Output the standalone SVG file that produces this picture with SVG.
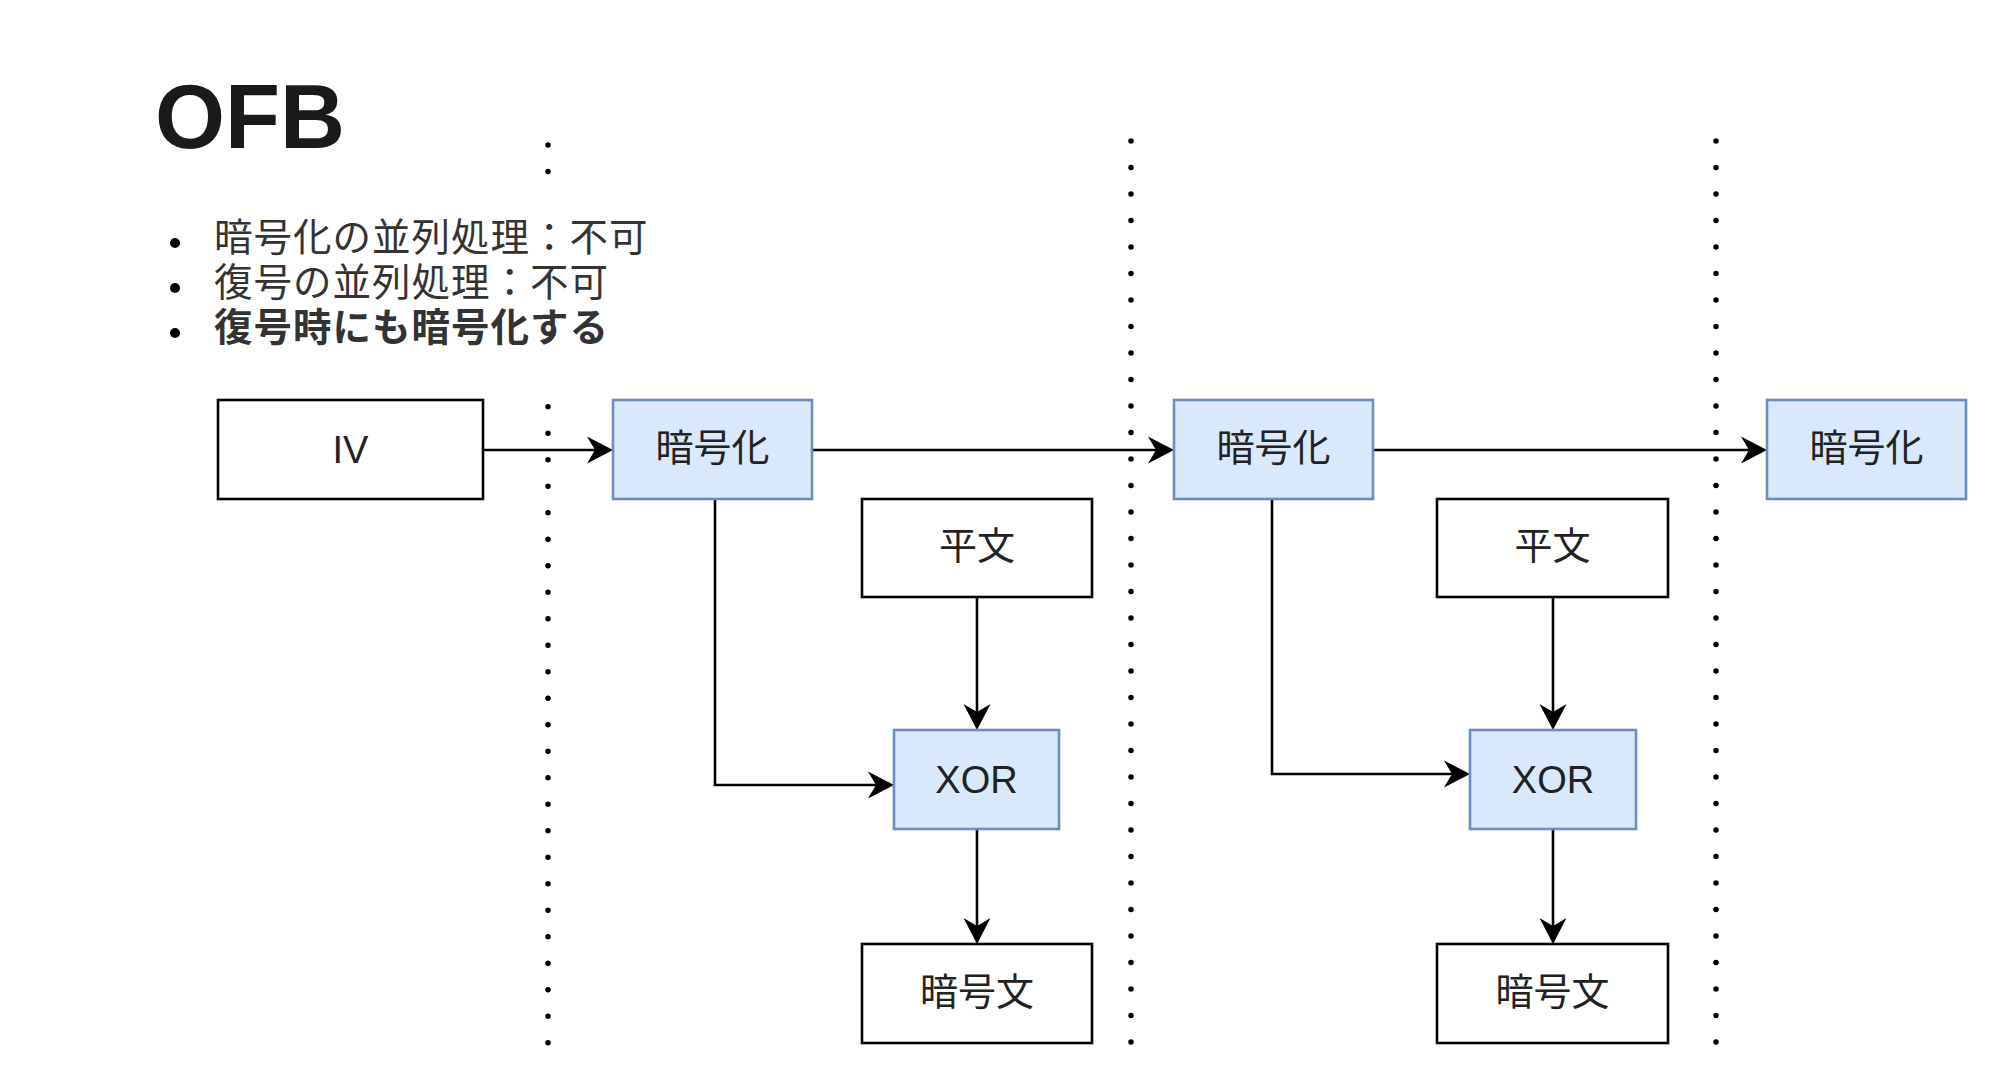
<svg xmlns="http://www.w3.org/2000/svg" width="2000" height="1081" viewBox="0 0 2000 1081">
  <style>
    .t { font-family: "Liberation Sans", "Noto Sans CJK JP", sans-serif; fill: #1a1a1a; }
    .note { font-size: 38.5px; letter-spacing: 1px; fill: #333333; }
    .lbl { font-size: 38px; text-anchor: middle; fill: #222222; }
    .plain { fill: #ffffff; stroke: #000000; stroke-width: 2.6; }
    .enc { fill: #dae8fc; stroke: #6c8ebf; stroke-width: 2.6; }
    .conn { fill: none; stroke: #000000; stroke-width: 2.6; marker-end: url(#arrow); }
    .sep { stroke: #000000; stroke-width: 5.5; stroke-linecap: round; stroke-dasharray: 0 26.5; fill: none; }
  </style>
  <defs>
    <marker id="arrow" viewBox="-22 -15 32 30" refX="0" refY="0" markerWidth="32" markerHeight="30" markerUnits="userSpaceOnUse" orient="auto" overflow="visible">
      <path d="M8,0 L-18,-13.5 L-10,0 L-18,13.5 Z" fill="#000000"/>
    </marker>
  </defs>
  <rect width="2000" height="1081" fill="#ffffff"/>

  <g id="title">
    <text class="t" x="155" y="148" font-size="90" font-weight="bold" fill="#000">OFB</text>
  </g>
  <g id="notes">
    <circle cx="175" cy="243" r="5" fill="#000"/>
    <circle cx="175" cy="288" r="5" fill="#000"/>
    <circle cx="175" cy="333" r="5" fill="#000"/>
    <text class="t note" x="214" y="251">暗号化の並列処理：不可</text>
    <text class="t note" x="214" y="296">復号の並列処理：不可</text>
    <text class="t note" x="214" y="341" font-weight="bold" fill="#111">復号時にも暗号化する</text>
  </g>

  <g id="separators">
    <line class="sep" x1="548" y1="145" x2="548" y2="174"/>
    <line class="sep" x1="548" y1="406.7" x2="548" y2="1045"/>
    <line class="sep" x1="1131" y1="141" x2="1131" y2="1044"/>
    <line class="sep" x1="1716" y1="141" x2="1716" y2="1044"/>
  </g>

  <g id="connectors">
    <path class="conn" d="M483,450 H605"/>
    <path class="conn" d="M812,450 H1166"/>
    <path class="conn" d="M1373,450 H1759"/>
    <path class="conn" d="M715,499 V785 H886"/>
    <path class="conn" d="M977,597 V722"/>
    <path class="conn" d="M977,829 V936"/>
    <path class="conn" d="M1272,499 V774 H1462"/>
    <path class="conn" d="M1553,597 V722"/>
    <path class="conn" d="M1553,829 V936"/>
  </g>

  <g id="iv">
    <rect class="plain" x="218" y="400" width="265" height="99"/>
    <text class="t lbl" x="350.5" y="463">IV</text>
  </g>
  <g id="enc1">
    <rect class="enc" x="613" y="400" width="199" height="99"/>
    <text class="t lbl" x="712.5" y="461">暗号化</text>
  </g>
  <g id="plain1">
    <rect class="plain" x="862" y="499" width="230" height="98"/>
    <text class="t lbl" x="977" y="559">平文</text>
  </g>
  <g id="xor1">
    <rect class="enc" x="894" y="730" width="165" height="99"/>
    <text class="t lbl" x="976.5" y="793">XOR</text>
  </g>
  <g id="cipher1">
    <rect class="plain" x="862" y="944" width="230" height="99"/>
    <text class="t lbl" x="977" y="1005">暗号文</text>
  </g>
  <g id="enc2">
    <rect class="enc" x="1174" y="400" width="199" height="99"/>
    <text class="t lbl" x="1273.5" y="461">暗号化</text>
  </g>
  <g id="plain2">
    <rect class="plain" x="1437" y="499" width="231" height="98"/>
    <text class="t lbl" x="1552.5" y="559">平文</text>
  </g>
  <g id="xor2">
    <rect class="enc" x="1470" y="730" width="166" height="99"/>
    <text class="t lbl" x="1553" y="793">XOR</text>
  </g>
  <g id="cipher2">
    <rect class="plain" x="1437" y="944" width="231" height="99"/>
    <text class="t lbl" x="1552.5" y="1005">暗号文</text>
  </g>
  <g id="enc3">
    <rect class="enc" x="1767" y="400" width="199" height="99"/>
    <text class="t lbl" x="1866.5" y="461">暗号化</text>
  </g>
</svg>
